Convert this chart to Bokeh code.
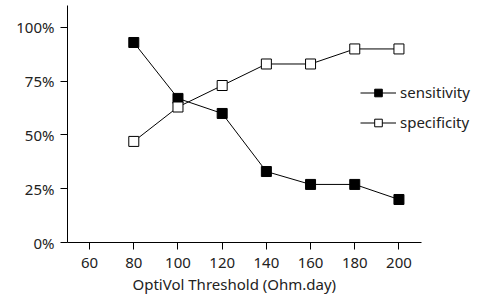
from bokeh.plotting import figure
from bokeh.models import Range1d, Legend, LegendItem, FixedTicker, NumeralTickFormatter, Title
from bokeh.embed import file_html
from bokeh.resources import INLINE

thresholds = [80, 100, 120, 140, 160, 180, 200]
sensitivity = [0.93, 0.67, 0.60, 0.33, 0.27, 0.27, 0.20]
specificity = [0.47, 0.63, 0.73, 0.83, 0.83, 0.90, 0.90]
x_ticks = [60, 80, 100, 120, 140, 160, 180, 200]
y_ticks = [0, 0.25, 0.5, 0.75, 1.0]
x_title = "OptiVol Threshold (Ohm.day)"

FONT = "Noto Sans"
FS = "15px"

p = figure(width=476, height=297, output_backend="svg", toolbar_location=None,
           x_range=Range1d(50, 235.1), y_range=Range1d(0, 1.102),
           min_border_left=67, min_border_right=0, min_border_top=5, min_border_bottom=55)
p.outline_line_color = None
p.xgrid.visible = False
p.ygrid.visible = False

l1 = p.line(thresholds, sensitivity, line_color="black", line_width=1)
s1 = p.scatter(thresholds, sensitivity, marker="square", size=10, fill_color="black", line_color="black")
l2 = p.line(thresholds, specificity, line_color="black", line_width=1)
s2 = p.scatter(thresholds, specificity, marker="square", size=10, fill_color="white", line_color="black")

for ax in (p.xaxis[0], p.yaxis[0]):
    ax.major_tick_in = 0
    ax.major_tick_out = 7
    ax.minor_tick_line_color = None
    ax.axis_line_color = "black"
    ax.major_tick_line_color = "black"
    ax.major_label_text_font = FONT
    ax.major_label_text_font_size = FS
    ax.major_label_text_color = "#222222"

p.xaxis.bounds = (50, 210)
p.xaxis.ticker = FixedTicker(ticks=x_ticks)
p.yaxis.ticker = FixedTicker(ticks=y_ticks)
p.yaxis.formatter = NumeralTickFormatter(format="0%")
p.xaxis.major_label_standoff = 8
p.yaxis.major_label_standoff = 6

t = Title(text=x_title, align="left", offset=65, standoff=3,
          text_font=FONT, text_font_size=FS, text_font_style="normal",
          text_color="#222222")
p.add_layout(t, "below")

legend = Legend(items=[LegendItem(label="sensitivity", renderers=[l1, s1]),
                       LegendItem(label="specificity", renderers=[l2, s2])],
                location=(293, 110), orientation="vertical")
legend.background_fill_alpha = 0
legend.border_line_color = None
legend.padding = 0
legend.margin = 0
legend.spacing = 10
legend.glyph_width = 36
legend.glyph_height = 19
legend.label_height = 19
legend.label_standoff = 4
legend.label_text_font = FONT
legend.label_text_font_size = FS
legend.label_text_color = "#222222"
p.add_layout(legend)

open("out.html", "w").write(file_html(p, INLINE))
